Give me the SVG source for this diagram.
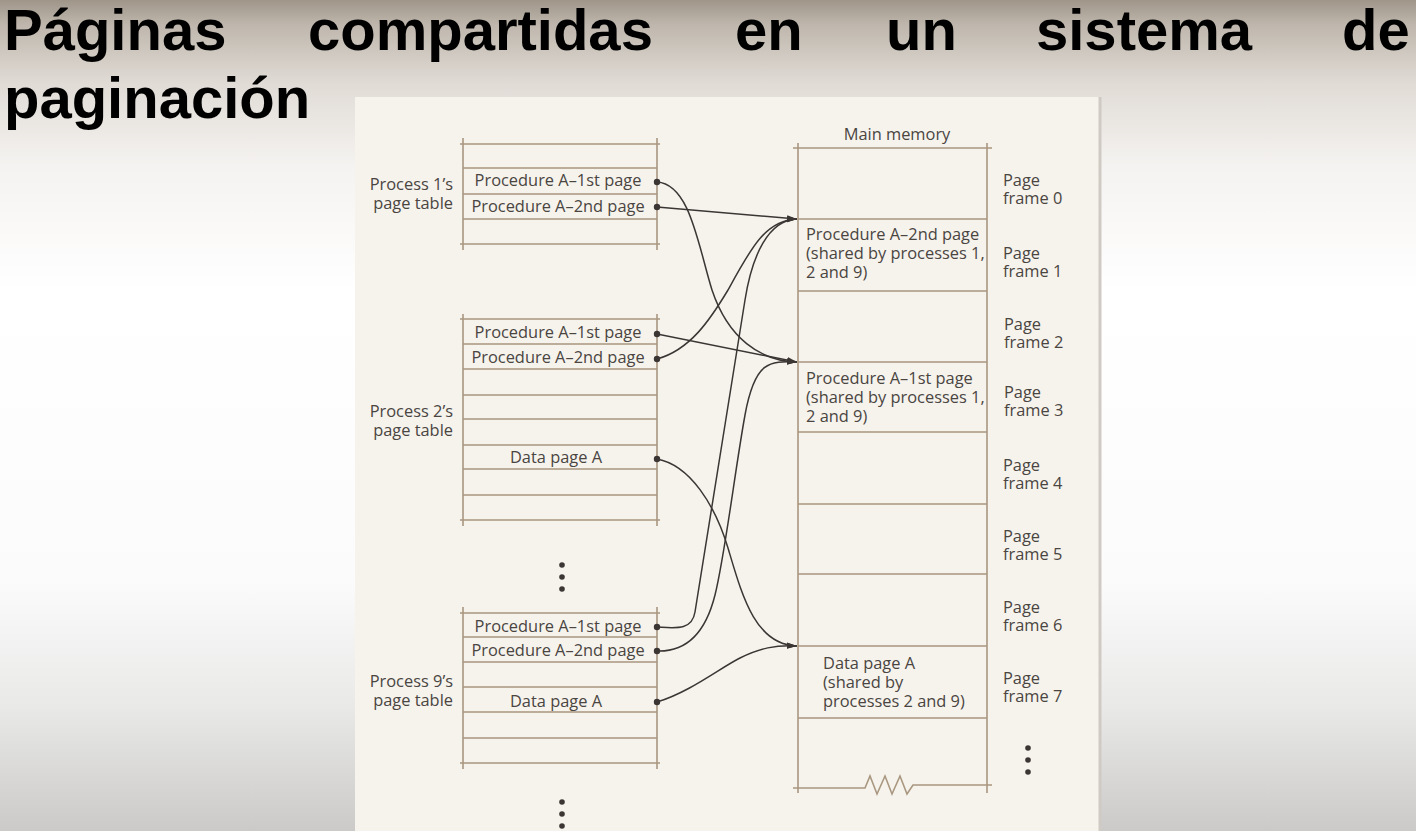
<svg xmlns="http://www.w3.org/2000/svg" width="1416" height="831" viewBox="0 0 1416 831">
<defs>
<linearGradient id="bg" x1="0" y1="0" x2="0" y2="1">
<stop offset="0" stop-color="#9f9589"/>
<stop offset="0.03" stop-color="#bfb7ad"/>
<stop offset="0.1" stop-color="#e0dbd5"/>
<stop offset="0.2" stop-color="#f5f3f1"/>
<stop offset="0.35" stop-color="#ffffff"/>
<stop offset="0.7" stop-color="#fbfbfb"/>
<stop offset="0.85" stop-color="#e9e9e8"/>
<stop offset="1" stop-color="#cbcac9"/>
</linearGradient>
<marker id="arr" viewBox="0 0 10 7" refX="10" refY="3.5" markerWidth="10" markerHeight="7" orient="auto" markerUnits="userSpaceOnUse">
<path d="M0,0.5 L10,3.5 L0,6.5 z" fill="#3b3634"/>
</marker>
</defs>
<style>
.title{font-family:"Liberation Sans",Arial,sans-serif;font-weight:bold;font-size:58px;fill:#000}
.t{font-family:"Open Sans","Noto Sans",sans-serif;font-size:16.4px;fill:#4a4541}
.mid{text-anchor:middle}
.end{text-anchor:end}
.tl{stroke:#a99780;stroke-width:1.6;fill:none}
.con{stroke:#3b3634;stroke-width:1.5;fill:none}
.dot{fill:#3b3634}
</style>
<rect x="0" y="0" width="1416" height="831" fill="url(#bg)"/>
<text class="title" y="50"><tspan x="4">Páginas</tspan><tspan x="308">compartidas</tspan><tspan x="735">en</tspan><tspan x="886">un</tspan><tspan x="1036">sistema</tspan><tspan x="1342">de</tspan></text>
<text class="title" x="4" y="118">paginación</text>
<g id="panel">
<rect x="355" y="97" width="745" height="740" fill="#f6f3ed"/>
<line x1="1100" y1="97" x2="1100" y2="831" stroke="#cfcac3" stroke-width="3"/>
</g>
<g id="table1">
<path class="tl" d="M460,144H660M463,168H657M463,194H657M463,219H657M460,244H660M463,138V250M657,138V250"/>
<text class="t mid" x="558" y="186">Procedure A–1st page</text>
<text class="t mid" x="558" y="212">Procedure A–2nd page</text>
<text class="t end" y="190"><tspan x="453">Process 1’s</tspan><tspan x="453" dy="19">page table</tspan></text>
</g>
<g id="table2">
<path class="tl" d="M460,319H660M463,344H657M463,369H657M463,395H657M463,419H657M463,445H657M463,469H657M463,495H657M460,520H660M463,314V526M657,314V526"/>
<text class="t mid" x="558" y="338">Procedure A–1st page</text>
<text class="t mid" x="558" y="363">Procedure A–2nd page</text>
<text class="t mid" x="556" y="463">Data page A</text>
<text class="t end" y="417"><tspan x="453">Process 2’s</tspan><tspan x="453" dy="19">page table</tspan></text>
</g>
<g id="dots-mid">
<circle class="dot" cx="562" cy="565" r="2.8"/>
<circle class="dot" cx="562" cy="577" r="2.8"/>
<circle class="dot" cx="562" cy="589" r="2.8"/>
</g>
<g id="table9">
<path class="tl" d="M460,613H660M463,637H657M463,662H657M463,687H657M463,712H657M463,738H657M460,763H660M463,607V769M657,607V769"/>
<text class="t mid" x="558" y="632">Procedure A–1st page</text>
<text class="t mid" x="558" y="656">Procedure A–2nd page</text>
<text class="t mid" x="556" y="707">Data page A</text>
<text class="t end" y="687"><tspan x="453">Process 9’s</tspan><tspan x="453" dy="19">page table</tspan></text>
</g>
<g id="dots-bottom">
<circle class="dot" cx="562" cy="802" r="2.8"/>
<circle class="dot" cx="562" cy="814" r="2.8"/>
<circle class="dot" cx="562" cy="826" r="2.8"/>
</g>
<g id="memory">
<path class="tl" d="M793,148H992M798,219H987M798,291H987M798,362H987M798,432H987M798,504H987M798,574H987M798,646H987M798,718H987M798,143V793M987,143V793"/>
<path class="tl" d="M793,788H865L870,776L877,794L885,776L892,794L900,776L907,794L913,785H992"/>
<text class="t mid" x="897" y="140">Main memory</text>
<text class="t" y="240"><tspan x="806">Procedure A–2nd page</tspan><tspan x="806" dy="19">(shared by processes 1,</tspan><tspan x="806" dy="19">2 and 9)</tspan></text>
<text class="t" y="384"><tspan x="806">Procedure A–1st page</tspan><tspan x="806" dy="19">(shared by processes 1,</tspan><tspan x="806" dy="19">2 and 9)</tspan></text>
<text class="t" y="669"><tspan x="823">Data page A</tspan><tspan x="823" dy="19">(shared by</tspan><tspan x="823" dy="19">processes 2 and 9)</tspan></text>
</g>
<g id="frame-labels">
<text class="t" y="186"><tspan x="1003">Page</tspan><tspan x="1003" dy="18">frame 0</tspan></text>
<text class="t" y="259"><tspan x="1003">Page</tspan><tspan x="1003" dy="18">frame 1</tspan></text>
<text class="t" y="330"><tspan x="1004">Page</tspan><tspan x="1004" dy="18">frame 2</tspan></text>
<text class="t" y="398"><tspan x="1004">Page</tspan><tspan x="1004" dy="18">frame 3</tspan></text>
<text class="t" y="471"><tspan x="1003">Page</tspan><tspan x="1003" dy="18">frame 4</tspan></text>
<text class="t" y="542"><tspan x="1003">Page</tspan><tspan x="1003" dy="18">frame 5</tspan></text>
<text class="t" y="613"><tspan x="1003">Page</tspan><tspan x="1003" dy="18">frame 6</tspan></text>
<text class="t" y="684"><tspan x="1003">Page</tspan><tspan x="1003" dy="18">frame 7</tspan></text>
<circle class="dot" cx="1028" cy="748" r="2.8"/>
<circle class="dot" cx="1028" cy="760" r="2.8"/>
<circle class="dot" cx="1028" cy="772" r="2.8"/>
</g>
<g id="connectors">
<path class="con" marker-end="url(#arr)" d="M657,182 C690,184 698,245 712,290 C728,338 760,361 797,362"/>
<path class="con" marker-end="url(#arr)" d="M657,207 L797,219"/>
<path class="con" marker-end="url(#arr)" d="M657,334 L797,362"/>
<path class="con" marker-end="url(#arr)" d="M657,359 C690,350 710,320 728,290 C750,250 765,220 797,219"/>
<path class="con" marker-end="url(#arr)" d="M657,627 C675,628 692,631 695,612 L745,300 C752,256 768,220 797,219"/>
<path class="con" marker-end="url(#arr)" d="M657,651 C685,652 705,635 715,595 S735,470 745,415 S770,361 797,362"/>
<path class="con" marker-end="url(#arr)" d="M657,459 C690,465 715,505 728,548 C742,595 755,645 797,646"/>
<path class="con" marker-end="url(#arr)" d="M657,702 C690,692 720,668 740,658 C760,648 775,645 797,646"/>
<circle class="dot" cx="657" cy="182" r="3.2"/>
<circle class="dot" cx="657" cy="207" r="3.2"/>
<circle class="dot" cx="657" cy="334" r="3.2"/>
<circle class="dot" cx="657" cy="359" r="3.2"/>
<circle class="dot" cx="657" cy="459" r="3.2"/>
<circle class="dot" cx="657" cy="627" r="3.2"/>
<circle class="dot" cx="657" cy="651" r="3.2"/>
<circle class="dot" cx="657" cy="702" r="3.2"/>
</g>
</svg>
